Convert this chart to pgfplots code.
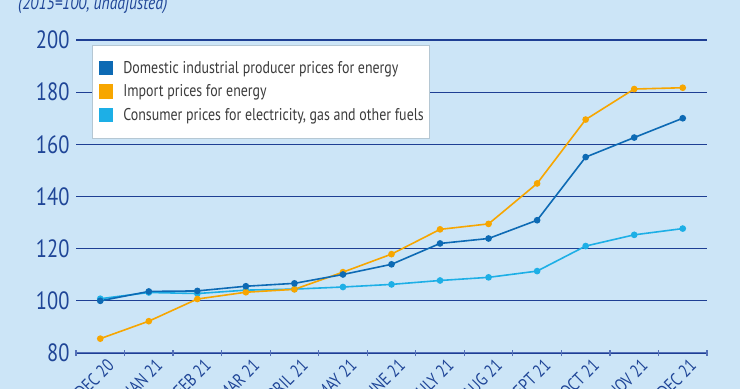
\documentclass[border=0pt]{standalone}
\usepackage{pgfplots}
\pgfplotsset{compat=1.18}
\usepackage{fontspec}
\setmainfont{PT Sans}[FakeStretch=0.82]
\definecolor{bg}{HTML}{CCE5F7}
\definecolor{navy}{HTML}{1E3F94}
\definecolor{axblue}{HTML}{5470B8}
\definecolor{txt}{HTML}{1F4597}
\definecolor{dblue}{HTML}{0D6AB4}
\definecolor{orng}{HTML}{F7A600}
\definecolor{lblue}{HTML}{1DAFE6}
\definecolor{legtxt}{HTML}{3C3C3C}
\begin{document}
\begin{tikzpicture}
\path[use as bounding box] (0,0) rectangle (740bp,389bp);
\clip (0,0) rectangle (740bp,389bp);
\fill[bg] (0,0) rectangle (740bp,389bp);
\node[anchor=base west, font=\itshape\fontsize{19bp}{22bp}\selectfont, text=txt, inner sep=0pt] at (18bp,379bp) {(2015=100, unadjusted)};
\begin{axis}[
  at={(76bp,36bp)}, anchor=south west,
  scale only axis, width=631bp, height=313bp,
  xmin=-0.5, xmax=12.5, ymin=80, ymax=200,
  ytick={80,100,...,200},
  xtick={0,...,12},
  xticklabels={DEC 20, JAN 21, FEB 21, MAR 21, APRIL 21, MAY 21, JUNE 21, JULY 21, AUG 21, SEPT 21, OCT 21, NOV 21, DEC 21},
  minor xtick={-0.5,0.5,...,12.5},
  tick pos=left,
  /pgf/number format/assume math mode=true,
  axis line style={draw=none},
  major tick style={draw=none},
  major tick length=0pt,
  minor tick style={axblue, line width=1.2bp},
  minor tick length=6bp,
  tick align=center,
  ymajorgrids,
  grid style={navy, line width=1.1bp},
  yticklabel style={font=\fontsize{25bp}{25bp}\selectfont, text=txt, xshift=-3bp},
  xticklabel style={font=\fontsize{18bp}{18bp}\selectfont, text=txt, rotate=45, anchor=east, xshift=4bp, yshift=-14bp},
  reverse legend,
  legend cell align=left,
  legend style={at={(rel axis cs:0.0254,0.984)}, anchor=north west,
    fill=white, draw=bg!70!gray, line width=0.6bp,
    font=\fontsize{17bp}{20bp}\selectfont, text=legtxt,
    inner xsep=4bp, inner ysep=14bp, row sep=6bp},
  legend image code/.code={\fill[#1] (3bp,-6.5bp) rectangle (16bp,6.5bp); \path[draw=none, fill=none] (0bp,0bp) -- (25bp,0bp);},
]
\addplot[lblue, line width=1.6bp, mark=*, mark size=2.5bp] coordinates {
(0,100.8) (1,103.2) (2,102.8) (3,104.1) (4,104.5) (5,105.3) (6,106.3) (7,107.8) (8,109.0) (9,111.4) (10,121.0) (11,125.3) (12,127.7)};
\addlegendentry{Consumer prices for electricity, gas and other fuels}
\addplot[orng, line width=1.6bp, mark=*, mark size=2.5bp] coordinates {
(0,85.5) (1,92.2) (2,100.7) (3,103.3) (4,104.4) (5,111.0) (6,117.9) (7,127.4) (8,129.5) (9,145.0) (10,169.5) (11,181.2) (12,181.7)};
\addlegendentry{Import prices for energy}
\addplot[dblue, line width=1.6bp, mark=*, mark size=2.5bp] coordinates {
(0,100.0) (1,103.6) (2,103.8) (3,105.6) (4,106.7) (5,110.1) (6,114.0) (7,122.0) (8,123.9) (9,130.9) (10,155.1) (11,162.6) (12,170.0)};
\addlegendentry{Domestic industrial producer prices for energy}
\draw[axblue, line width=1.5bp] (rel axis cs:0,0) -- (rel axis cs:1,0);
\end{axis}
\end{tikzpicture}
\end{document}
